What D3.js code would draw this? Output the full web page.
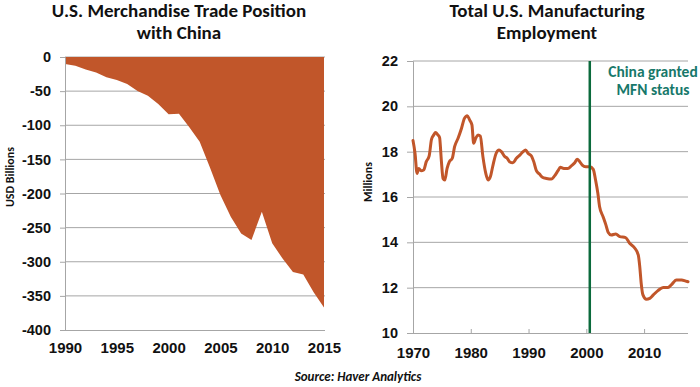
<!DOCTYPE html>
<html><head><meta charset="utf-8">
<script src="https://cdn.jsdelivr.net/npm/d3@7"></script>
<style>
body{margin:0;background:#fff;}
svg{display:block;font-family:Carlito,Lato,"Open Sans",sans-serif;font-weight:bold;}
</style></head>
<body>
<svg id="c" width="700" height="387"></svg>
<script>
// Left chart: U.S. merchandise trade balance with China (USD billions)
const tradeYears = [1990,1991,1992,1993,1994,1995,1996,1997,1998,1999,2000,2001,2002,2003,2004,2005,2006,2007,2008,2009,2010,2011,2012,2013,2014,2015];
const tradeBalance = [-10.4,-12.7,-18.3,-22.8,-29.5,-33.8,-39.5,-49.7,-56.9,-68.7,-83.8,-83.1,-103.1,-124.1,-162.3,-202.3,-234.1,-258.5,-268.0,-226.9,-273.0,-295.3,-315.1,-318.7,-344.8,-367.2];
const tradeYTicks = [0,-50,-100,-150,-200,-250,-300,-350,-400];
const tradeXTicks = [1990,1995,2000,2005,2010,2015];

// Right chart: total U.S. manufacturing employment (millions)
const empDates = [1970.0,1970.35,1970.7,1971.0,1971.4,1971.85,1972.3,1972.8,1973.2,1973.6,1973.9,1974.3,1974.6,1974.9,1975.2,1975.5,1975.9,1976.3,1976.8,1977.2,1977.8,1978.4,1978.9,1979.4,1979.8,1980.2,1980.5,1980.85,1981.25,1981.65,1982.1,1982.6,1983.0,1983.4,1983.85,1984.4,1984.9,1985.3,1985.9,1986.3,1986.7,1987.3,1987.9,1988.5,1989.05,1989.5,1989.9,1990.5,1990.9,1991.35,1991.9,1992.4,1993.1,1993.95,1994.5,1995.1,1995.5,1996.1,1996.8,1997.4,1998.0,1998.4,1998.86,1999.3,1999.9,2000.6,2001.2,2001.6,2002.0,2002.3,2002.9,2003.4,2003.8,2004.3,2005.1,2005.8,2006.8,2007.5,2008.4,2009.0,2009.25,2009.5,2009.8,2010.4,2010.98,2011.6,2012.4,2013.3,2014.15,2014.7,2015.6,2016.5,2017.2,2017.6];
const empValues = [18.49,17.93,17.04,17.26,17.16,17.19,17.56,17.81,18.54,18.74,18.85,18.74,18.63,17.63,16.82,16.75,17.26,17.56,17.71,18.22,18.59,19.03,19.47,19.59,19.40,19.18,18.37,18.59,18.74,18.69,17.78,17.04,16.75,16.90,17.41,17.93,18.07,18.00,17.78,17.71,17.56,17.51,17.71,17.85,18.00,18.07,17.93,17.81,17.56,17.16,17.01,16.87,16.82,16.79,16.93,17.16,17.31,17.26,17.26,17.37,17.51,17.66,17.56,17.41,17.34,17.34,17.22,16.75,16.16,15.57,15.13,14.76,14.43,14.32,14.37,14.25,14.21,13.96,13.74,13.44,12.93,12.19,11.68,11.49,11.53,11.68,11.87,12.01,12.01,12.12,12.34,12.34,12.29,12.26];
const empYTicks = [10,12,14,16,18,20,22];
const empXTicks = [1970,1980,1990,2000,2010];
const mfnDate = 2000.6;

const svg = d3.select("#c");
const orange = "#c1562a", grid = "#a6a6a6", txt = "#111";
const fmt = d => String(d);

// ---------- Left chart ----------
const xL = d3.scaleLinear().domain([1990,2015]).range([65,324]);
const yL = d3.scaleLinear().domain([0,-400]).range([57,330]);
const gL = svg.append("g");
gL.selectAll("line.grid").data(tradeYTicks.filter(d=>d>-400)).join("line")
  .attr("x1",65).attr("x2",325).attr("y1",d=>yL(d)).attr("y2",d=>yL(d))
  .attr("stroke",grid).attr("stroke-width",1);
const tradeData = tradeYears.map((d,i)=>({x:d,y:tradeBalance[i]}));
gL.append("path").datum(tradeData)
  .attr("d",d3.area().x(d=>xL(d.x)).y0(yL(0)).y1(d=>yL(d.y)))
  .attr("fill",orange);
const axL = gL.append("g").attr("transform","translate(65,0)")
  .call(d3.axisLeft(yL).tickValues(tradeYTicks).tickSize(5).tickPadding(9).tickFormat(fmt));
axL.select(".domain").attr("stroke",grid);
axL.selectAll(".tick line").attr("stroke",grid);
axL.selectAll("text").attr("font-size",14.5).attr("fill",txt).attr("font-family",null);
const bxL = gL.append("g").attr("transform",`translate(0,${yL(-400)})`)
  .call(d3.axisBottom(xL).tickValues(tradeXTicks).tickSize(0).tickPadding(12).tickFormat(fmt));
bxL.select(".domain").attr("stroke",grid).attr("d","M65,0.5H325");
bxL.selectAll("text").attr("font-size",15).attr("fill",txt).attr("font-family",null);
gL.append("text").attr("transform","translate(14,177) rotate(-90)").attr("text-anchor","middle")
  .attr("font-size",12).attr("fill",txt).text("USD Billions");
gL.append("text").attr("x",179).attr("y",17).attr("text-anchor","middle").attr("font-size",19).attr("fill",txt).text("U.S. Merchandise Trade Position");
gL.append("text").attr("x",179).attr("y",39).attr("text-anchor","middle").attr("font-size",19).attr("fill",txt).text("with China");

// ---------- Right chart ----------
const xR = d3.scaleLinear().domain([1970,2017.6]).range([413,688]);
const yR = d3.scaleLinear().domain([10,22]).range([333,61]);
const gR = svg.append("g");
gR.selectAll("line.grid").data(empYTicks.filter(d=>d>10)).join("line")
  .attr("x1",413).attr("x2",688).attr("y1",d=>yR(d)).attr("y2",d=>yR(d))
  .attr("stroke",grid).attr("stroke-width",1);
const axR = gR.append("g").attr("transform","translate(413,0)")
  .call(d3.axisLeft(yR).tickValues(empYTicks).tickSize(6).tickPadding(9).tickFormat(fmt));
axR.select(".domain").attr("stroke",grid);
axR.selectAll(".tick line").attr("stroke",grid);
axR.selectAll("text").attr("font-size",14.5).attr("fill",txt).attr("font-family",null);
const bxR = gR.append("g").attr("transform",`translate(0,${yR(10)})`)
  .call(d3.axisBottom(xR).tickValues(empXTicks).tickSize(-4).tickPadding(14).tickFormat(fmt));
bxR.select(".domain").attr("stroke",grid).attr("d","M413,0.5H688");
bxR.selectAll(".tick line").attr("stroke",grid);
bxR.selectAll("text").attr("font-size",15).attr("fill",txt).attr("font-family",null);
const empData = empDates.map((d,i)=>({x:d,y:empValues[i]}));
gR.append("path").datum(empData)
  .attr("d",d3.line().x(d=>xR(d.x)).y(d=>yR(d.y)).curve(d3.curveMonotoneX))
  .attr("fill","none").attr("stroke",orange).attr("stroke-width",3)
  .attr("stroke-linejoin","round").attr("stroke-linecap","round");
gR.append("line").attr("x1",xR(mfnDate)).attr("x2",xR(mfnDate)).attr("y1",yR(22)).attr("y2",yR(10))
  .attr("stroke","#0b6a3c").attr("stroke-width",2.5);
gR.append("text").attr("x",653).attr("y",77).attr("text-anchor","middle").attr("font-size",15.5).attr("fill","#17786a").text("China granted");
gR.append("text").attr("x",653).attr("y",95).attr("text-anchor","middle").attr("font-size",15.5).attr("fill","#17786a").text("MFN status");
gR.append("text").attr("transform","translate(372,182) rotate(-90)").attr("text-anchor","middle")
  .attr("font-size",12).attr("fill",txt).text("Millions");
gR.append("text").attr("x",547).attr("y",17).attr("text-anchor","middle").attr("font-size",19).attr("fill",txt).text("Total U.S. Manufacturing");
gR.append("text").attr("x",547).attr("y",39).attr("text-anchor","middle").attr("font-size",19).attr("fill",txt).text("Employment");

svg.append("text").attr("x",358).attr("y",381).attr("text-anchor","middle").attr("font-size",13)
  .attr("font-style","italic").attr("fill",txt).text("Source: Haver Analytics");
</script>
</body></html>
